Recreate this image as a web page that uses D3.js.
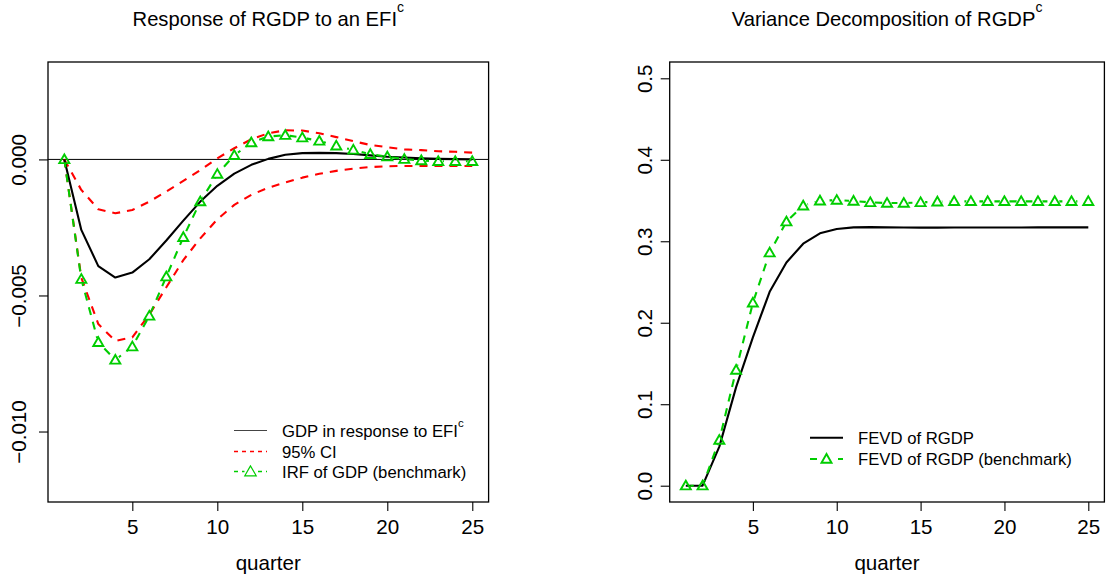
<!DOCTYPE html>
<html><head><meta charset="utf-8">
<script src="https://cdn.jsdelivr.net/npm/d3@7"></script>
<style>
body{margin:0;background:#fff}
text{font-family:"Liberation Sans",Arial,Helvetica,sans-serif;fill:#000}
</style>
</head><body>
<svg id="c" width="1110" height="577"></svg>
<script>
// ---------------- data ----------------
const quarters = [1,2,3,4,5,6,7,8,9,10,11,12,13,14,15,16,17,18,19,20,21,22,23,24,25];
const gdpResponse = [0,-0.00259,-0.00392,-0.00434,-0.00416,-0.00367,-0.00298,-0.00225,-0.00155,-0.00097,-0.00052,-0.00020,0.00002,0.00017,0.00023,0.00024,0.00023,0.00020,0.00015,0.00010,0.00007,0.00004,0.00002,0.00001,0.00000];
const ciUpper = [0,-0.00112,-0.00183,-0.00198,-0.00186,-0.00155,-0.00118,-0.00079,-0.00039,0.00004,0.00041,0.00074,0.00096,0.00107,0.00106,0.00096,0.00082,0.00067,0.00053,0.00045,0.00037,0.00034,0.00030,0.00028,0.00025];
const ciLower = [0,-0.00435,-0.00605,-0.00667,-0.00654,-0.00570,-0.00470,-0.00370,-0.00290,-0.00220,-0.00167,-0.00130,-0.00104,-0.00085,-0.00067,-0.00053,-0.00042,-0.00034,-0.00028,-0.00025,-0.00024,-0.00024,-0.00024,-0.00024,-0.00024];
const irfBenchmark = [0,-0.00440,-0.00672,-0.00737,-0.00688,-0.00575,-0.00431,-0.00286,-0.00155,-0.00054,0.00015,0.00062,0.00084,0.00089,0.00080,0.00068,0.00050,0.00035,0.00019,0.00010,0.00001,-0.00004,-0.00007,-0.00007,-0.00007];
const fevd = [0,0,0.048,0.121,0.182,0.238,0.274,0.297,0.3097,0.315,0.317,0.3173,0.317,0.3168,0.3167,0.3167,0.3168,0.3168,0.3168,0.3169,0.3169,0.317,0.317,0.317,0.317];
const fevdBenchmark = [0,0,0.056,0.142,0.2245,0.286,0.324,0.3436,0.3497,0.3505,0.3494,0.3477,0.3469,0.3469,0.3477,0.3485,0.349,0.349,0.349,0.349,0.349,0.349,0.349,0.349,0.349];
const xTicks = [5,10,15,20,25];
const leftYTicks = [0,-0.005,-0.010];
const leftYTickLabels = ["0.000","\u22120.005","\u22120.010"];
const rightYTicks = [0,0.1,0.2,0.3,0.4,0.5];
const rightYTickLabels = ["0.0","0.1","0.2","0.3","0.4","0.5"];
const leftLegend = ["GDP in response to EFI","95% CI","IRF of GDP (benchmark)"];
const rightLegend = ["FEVD of RGDP","FEVD of RGDP (benchmark)"];

// ---------------- setup ----------------
const svg = d3.select("#c");
const RED = "#FF0000", GREEN = "#00CD00";
const AX_FONT = 20.6, LEG_FONT = 16.7;
const defs = svg.append("defs");

function triPath(r){
  const h = r*0.866;
  return `M0,${-r} L${-h},${r*0.5} L${h},${r*0.5} Z`;
}

function panel(opt){
  const x = d3.scaleLinear().domain([0.04,25.96]).range([opt.left,opt.right]);
  const y = d3.scaleLinear().domain(opt.ydom).range([502,62]);
  const g = svg.append("g");

  const xa = g.append("g").attr("transform","translate(0,502)")
    .call(d3.axisBottom(x).tickValues(xTicks).tickSize(9).tickSizeOuter(0));
  xa.select(".domain").remove();
  xa.selectAll("line").attr("stroke","#000").attr("stroke-width",1.1);
  xa.selectAll("text").attr("y",32).attr("dy",null).attr("font-size",AX_FONT)
    .attr("font-family","Liberation Sans, Arial, sans-serif").attr("fill","#000");

  const ya = g.append("g").attr("transform",`translate(${opt.left},0)`)
    .call(d3.axisLeft(y).tickValues(opt.yticks).tickSize(9).tickSizeOuter(0)
      .tickFormat((d,i)=>opt.ylabels[i]));
  ya.select(".domain").remove();
  ya.selectAll("line").attr("stroke","#000").attr("stroke-width",1.1);
  ya.selectAll("text").attr("x",null).attr("dy",null)
    .attr("transform",`translate(${opt.ylabx-opt.left},0) rotate(-90)`)
    .attr("text-anchor","middle").attr("font-size",AX_FONT)
    .attr("font-family","Liberation Sans, Arial, sans-serif").attr("fill","#000");

  g.append("rect").attr("x",opt.left).attr("y",62)
    .attr("width",opt.right-opt.left).attr("height",440)
    .attr("fill","none").attr("stroke","#000").attr("stroke-width",1.3);

  g.append("text").attr("x",(opt.left+opt.right)/2).attr("y",570)
    .attr("text-anchor","middle").attr("font-size",AX_FONT).text("quarter");

  const t = g.append("text").attr("x",(opt.left+opt.right)/2).attr("y",26)
    .attr("text-anchor","middle").attr("font-size",20.2);
  t.append("tspan").text(opt.title);
  t.append("tspan").attr("dy",-14).attr("font-size",14).text("c");

  return {x,y,g};
}

function line(p, vals, color, width, dash, maskId){
  const gen = d3.line().x((d,i)=>p.x(quarters[i])).y(d=>p.y(d));
  const path = p.g.append("path").datum(vals).attr("d",gen)
    .attr("fill","none").attr("stroke",color).attr("stroke-width",width)
    .attr("stroke-linejoin","round");
  if(dash) path.attr("stroke-dasharray",dash);
  if(maskId) path.attr("mask",`url(#${maskId})`);
}

function pointsWithGap(p, vals, id){
  const m = defs.append("mask").attr("id",id).attr("maskUnits","userSpaceOnUse")
    .attr("x",0).attr("y",0).attr("width",1110).attr("height",577);
  m.append("rect").attr("width",1110).attr("height",577).attr("fill","#fff");
  m.selectAll("circle").data(vals).enter().append("circle")
    .attr("cx",(d,i)=>p.x(quarters[i])).attr("cy",d=>p.y(d)).attr("r",4.6).attr("fill","#000");
}

function triangles(p, vals){
  p.g.append("g").selectAll("path").data(vals).enter().append("path")
    .attr("d",triPath(5.8))
    .attr("transform",(d,i)=>`translate(${p.x(quarters[i])},${p.y(d)+0.8})`)
    .attr("fill","none").attr("stroke",GREEN).attr("stroke-width",1.9);
}

// ---------------- left panel ----------------
const L = panel({left:48,right:488.6,ydom:[-0.01259,0.00358],yticks:leftYTicks,
  ylabels:leftYTickLabels,ylabx:26,title:"Response of RGDP to an EFI"});

L.g.append("line").attr("x1",48).attr("x2",488.6)
  .attr("y1",L.y(0)).attr("y2",L.y(0)).attr("stroke","#000").attr("stroke-width",1);

line(L, ciUpper, RED, 2.1, "8,7");
line(L, ciLower, RED, 2.1, "8,7");
line(L, gdpResponse, "#000", 2.1, null);
pointsWithGap(L, irfBenchmark, "mL");
line(L, irfBenchmark, GREEN, 2.1, "8,7", "mL");
triangles(L, irfBenchmark);

(function(){
  const lx1 = 234, lx2 = 267, tx = 282, rows = [430.5, 451.5, 471.5];
  const lg = L.g.append("g");
  lg.append("line").attr("x1",lx1).attr("x2",lx2).attr("y1",rows[0]).attr("y2",rows[0])
    .attr("stroke","#444").attr("stroke-width",1.2);
  lg.append("line").attr("x1",lx1).attr("x2",lx2).attr("y1",rows[1]).attr("y2",rows[1])
    .attr("stroke",RED).attr("stroke-width",1.3).attr("stroke-dasharray","4,4");
  lg.append("line").attr("x1",lx1).attr("x2",lx2).attr("y1",rows[2]).attr("y2",rows[2])
    .attr("stroke",GREEN).attr("stroke-width",1.3).attr("stroke-dasharray","4,4");
  lg.append("rect").attr("x",(lx1+lx2)/2-6).attr("y",rows[2]-6).attr("width",12).attr("height",12).attr("fill","#fff");
  lg.append("path").attr("d",triPath(6.6)).attr("transform",`translate(${(lx1+lx2)/2},${rows[2]+1})`)
    .attr("fill","none").attr("stroke",GREEN).attr("stroke-width",1.2);
  leftLegend.forEach((s,i)=>{
    const t = lg.append("text").attr("x",tx).attr("y",rows[i]+6).attr("font-size",LEG_FONT);
    t.append("tspan").text(s);
    if(i===0) t.append("tspan").attr("dy",-10).attr("font-size",11.5).text("c");
  });
})();

// ---------------- right panel ----------------
const R = panel({left:669.7,right:1104.4,ydom:[-0.02,0.52],yticks:rightYTicks,
  ylabels:rightYTickLabels,ylabx:652,title:"Variance Decomposition of RGDP"});

line(R, fevd, "#000", 2.1, null);
pointsWithGap(R, fevdBenchmark, "mR");
line(R, fevdBenchmark, GREEN, 2.1, "8,7", "mR");
triangles(R, fevdBenchmark);

(function(){
  const lx1 = 810, lx2 = 843, tx = 858, rows = [437.7, 459];
  const lg = R.g.append("g");
  lg.append("line").attr("x1",lx1).attr("x2",lx2).attr("y1",rows[0]).attr("y2",rows[0])
    .attr("stroke","#000").attr("stroke-width",2.1);
  lg.append("line").attr("x1",lx1).attr("x2",lx2).attr("y1",rows[1]).attr("y2",rows[1])
    .attr("stroke",GREEN).attr("stroke-width",2.1).attr("stroke-dasharray","7,7");
  lg.append("rect").attr("x",(lx1+lx2)/2-5.5).attr("y",rows[1]-6).attr("width",11).attr("height",12).attr("fill","#fff");
  lg.append("path").attr("d",triPath(5.8)).attr("transform",`translate(${(lx1+lx2)/2},${rows[1]+0.8})`)
    .attr("fill","none").attr("stroke",GREEN).attr("stroke-width",1.9);
  rightLegend.forEach((s,i)=>{
    lg.append("text").attr("x",tx).attr("y",rows[i]+6).attr("font-size",LEG_FONT).text(s);
  });
})();
</script>
</body></html>
